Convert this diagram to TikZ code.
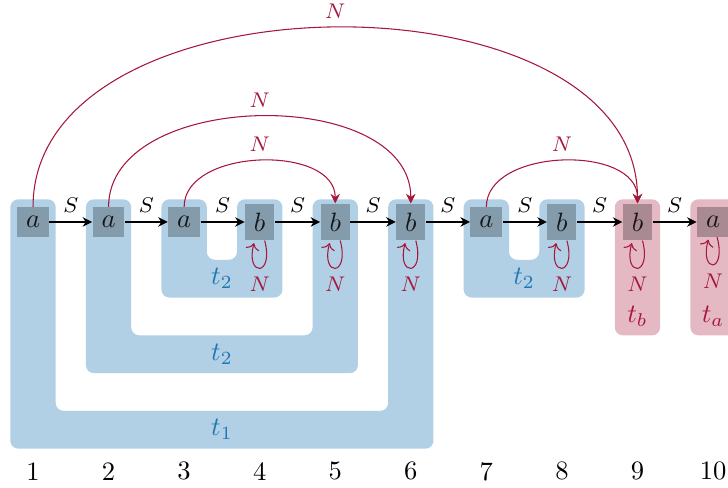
\documentclass[tikz,border=0pt]{standalone}
\usepackage{tikz}
\usetikzlibrary{arrows.meta}
\definecolor{tblue}{RGB}{31,119,180}
\definecolor{tred}{RGB}{166,23,60}

\begin{document}
\begin{tikzpicture}[
 sym/.style={fill=black,fill opacity=.25,text opacity=.85},
 blk/.style={fill=tblue!35,rounded corners=3pt},
 pblk/.style={fill=tred!30,rounded corners=3pt},
 arr/.style={-{Stealth[length=3.6pt,width=3.6pt]}},
 narr/.style={-{Stealth[length=3.6pt,width=3.6pt]},tred},
 lbl/.style={font=\footnotesize}]
\useasboundingbox (0.563,-3.52) rectangle (10.198,2.938);
% blocks
\fill[blk] (0.7,0.3) -- (0.7,-3) -- (6.3,-3) -- (6.3,0.3) -- (5.7,0.3) -- (5.7,-2.5) -- (1.3,-2.5) -- (1.3,0.3) -- cycle;
\fill[blk] (1.7,0.3) -- (1.7,-2) -- (5.3,-2) -- (5.3,0.3) -- (4.7,0.3) -- (4.7,-1.5) -- (2.3,-1.5) -- (2.3,0.3) -- cycle;
\fill[blk] (2.7,0.3) -- (2.7,-1) -- (4.3,-1) -- (4.3,0.3) -- (3.7,0.3) -- (3.7,-0.5) -- (3.3,-0.5) -- (3.3,0.3) -- cycle;
\fill[blk] (6.7,0.3) -- (6.7,-1) -- (8.3,-1) -- (8.3,0.3) -- (7.7,0.3) -- (7.7,-0.5) -- (7.3,-0.5) -- (7.3,0.3) -- cycle;
\fill[pblk] (8.7,-1.5) rectangle (9.3,0.3);
\fill[pblk] (9.7,-1.5) rectangle (10.3,0.3);
\node[tblue] (t1) at (3.5,-2.75) {$t_1$};
\node[tblue] (t2o) at (3.5,-1.75) {$t_2$};
\node[tblue] (t2i) at (3.5,-0.75) {$t_2$};
\node[tblue] (t2r) at (7.5,-0.75) {$t_2$};
\node[tred] (tb) at (9,-1.25) {$t_b$};
\node[tred] (ta) at (10,-1.25) {$t_a$};
% symbols
\node[sym] (s1) at (1,0) {$a$}; \node[sym] (s2) at (2,0) {$a$};
\node[sym] (s3) at (3,0) {$a$}; \node[sym] (s4) at (4,0) {$b$};
\node[sym] (s5) at (5,0) {$b$}; \node[sym] (s6) at (6,0) {$b$};
\node[sym] (s7) at (7,0) {$a$}; \node[sym] (s8) at (8,0) {$b$};
\node[sym] (s9) at (9,0) {$b$}; \node[sym] (s10) at (10,0) {$a$};
% positions
\node (p1) at (1,-3.3) {1}; \node (p2) at (2,-3.3) {2}; \node (p3) at (3,-3.3) {3};
\node (p4) at (4,-3.3) {4}; \node (p5) at (5,-3.3) {5}; \node (p6) at (6,-3.3) {6};
\node (p7) at (7,-3.3) {7}; \node (p8) at (8,-3.3) {8}; \node (p9) at (9,-3.3) {9};
\node (p10) at (10,-3.3) {10};
% successor edges
\draw[arr] (s1)--node[above,lbl]{$S$}(s2); \draw[arr] (s2)--node[above,lbl]{$S$}(s3);
\draw[arr] (s3)--node[above,lbl]{$S$}(s4); \draw[arr] (s4)--node[above,lbl]{$S$}(s5);
\draw[arr] (s5)--node[above,lbl]{$S$}(s6); \draw[arr] (s6)--node[above,lbl]{$S$}(s7);
\draw[arr] (s7)--node[above,lbl]{$S$}(s8); \draw[arr] (s8)--node[above,lbl]{$S$}(s9);
\draw[arr] (s9)--node[above,lbl]{$S$}(s10);
% next edges
\draw[narr] (s1) to[out=90,in=90] node[above,lbl]{$N$} (s9);
\draw[narr] (s2) to[out=90,in=90] node[above,lbl]{$N$} (s6);
\draw[narr] (s3) to[out=90,in=90] node[above,lbl]{$N$} (s5);
\draw[narr] (s7) to[out=90,in=90] node[above,lbl]{$N$} (s9);
\path[narr] (s4) edge[loop below] node[below,lbl]{$N$} ();
\path[narr] (s5) edge[loop below] node[below,lbl]{$N$} ();
\path[narr] (s6) edge[loop below] node[below,lbl]{$N$} ();
\path[narr] (s8) edge[loop below] node[below,lbl]{$N$} ();
\path[narr] (s9) edge[loop below] node[below,lbl]{$N$} ();
\path[narr] (s10) edge[loop below] node[below,lbl]{$N$} ();
\end{tikzpicture}
\end{document}
